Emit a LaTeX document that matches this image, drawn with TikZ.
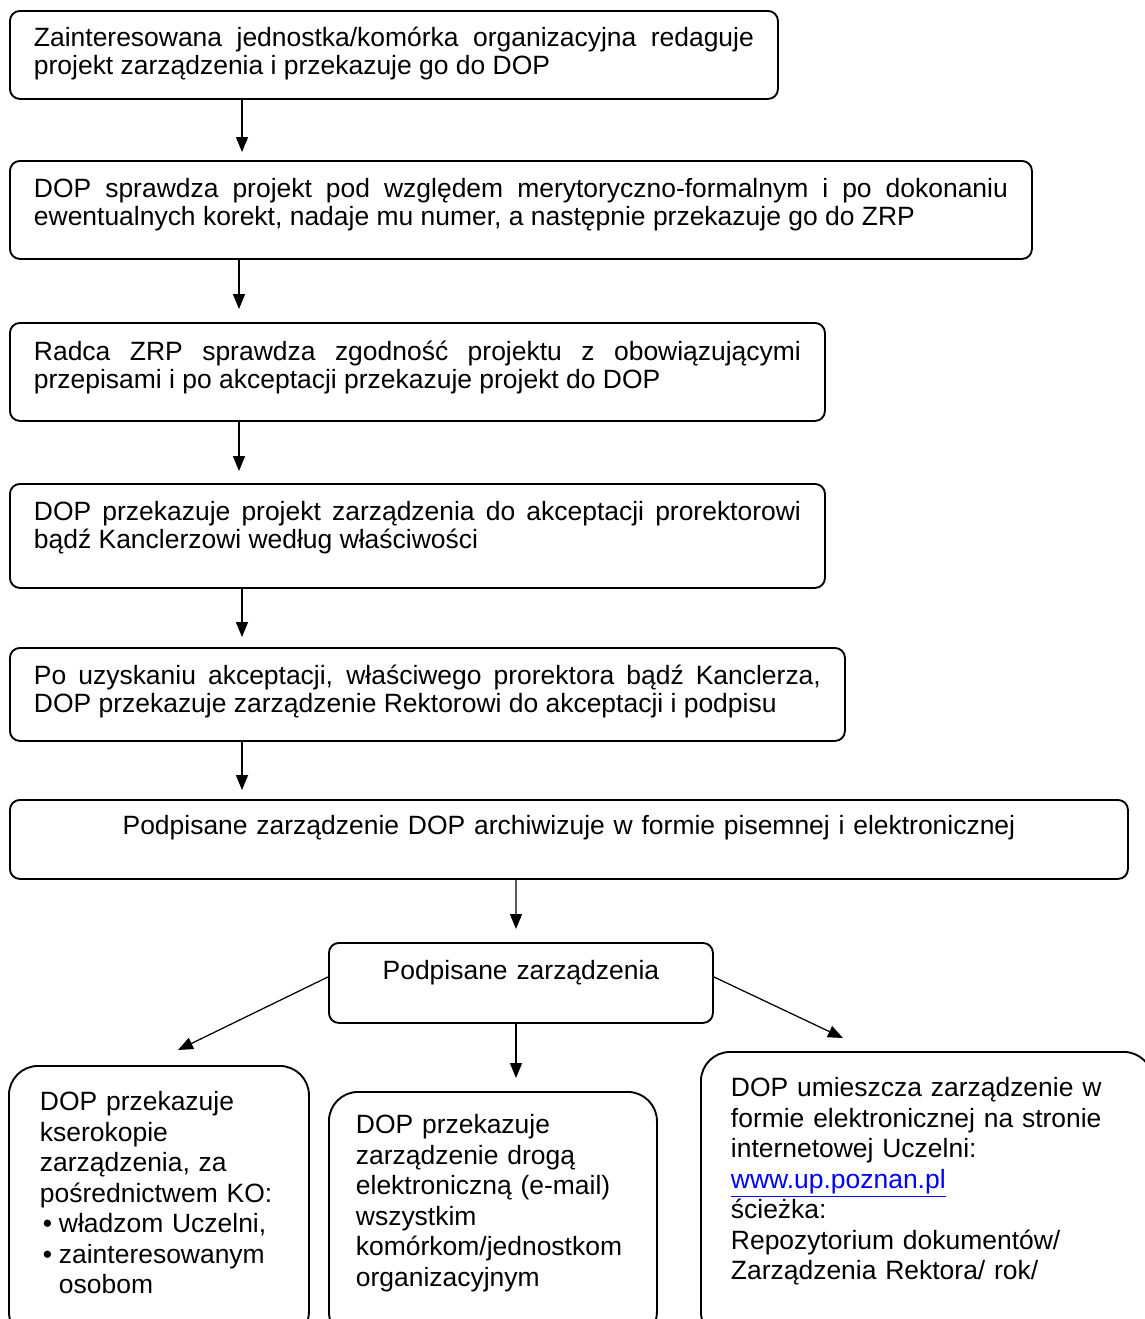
\documentclass[tikz,border=0pt]{standalone}
\usepackage{fontspec}
\setmainfont{Liberation Sans}
\usepackage{xcolor}
\usetikzlibrary{arrows.meta}
\hyphenpenalty=10000
\exhyphenpenalty=10000

\begin{document}
\begin{tikzpicture}[x=0.48pt,y=-0.48pt,
  box/.style={draw,line width=0.9pt,rounded corners=4.8pt,anchor=north west,
    inner xsep=11.52pt,inner ysep=0pt,align=justify,
    font=\fontsize{12.7}{13.2}\selectfont},
  tile/.style={box,rounded corners=14pt,align=left,
    font=\fontsize{12.7}{14.6}\selectfont},
  arr/.style={line width=0.6pt,-{Triangle[length=7.2pt,width=5.8pt]}}]
  \useasboundingbox (0,0) rectangle (1145,1319);
  \clip (0,0) rectangle (1145,1319);
  \node[box,text width=345.6pt,text height=17.28pt,text depth=24.96pt] (draft) at (9,10)
    {Zainteresowana jednostka/komórka organizacyjna redaguje\linebreak projekt zarządzenia i przekazuje go do DOP};
  \node[box,text width=467.52pt,text height=17.76pt,text depth=29.28pt] (check) at (9,160)
    {DOP sprawdza projekt pod względem merytoryczno-formalnym i po dokonaniu\linebreak ewentualnych korekt, nadaje mu numer, a następnie przekazuje go do ZRP};
  \node[box,text width=368.16pt,text height=18.24pt,text depth=28.8pt] (legal) at (9,322)
    {Radca ZRP sprawdza zgodność projektu z obowiązującymi\linebreak przepisami i po akceptacji przekazuje projekt do DOP};
  \node[box,text width=368.16pt,text height=17.76pt,text depth=32.16pt] (accept) at (9,483)
    {DOP przekazuje projekt zarządzenia do akceptacji prorektorowi\linebreak bądź Kanclerzowi według właściwości};
  \node[box,text width=377.76pt,text height=17.76pt,text depth=26.88pt] (sign) at (9,647)
    {Po uzyskaniu akceptacji, właściwego prorektora bądź Kanclerza,\linebreak DOP przekazuje zarządzenie Rektorowi do akceptacji i podpisu};
  \node[box,align=center,text width=513.6pt,text height=16.8pt,text depth=21.12pt] (archive) at (9,799)
    {Podpisane zarządzenie DOP archiwizuje w formie pisemnej i elektronicznej};
  \node[box,align=center,text width=161.28pt,text height=17.76pt,text depth=20.64pt] (signed) at (328,942)
    {Podpisane zarządzenia};
  \node[tile,inner xsep=14.88pt,text width=114.24pt,text height=21.6pt,text depth=110.4pt] (copies) at (8,1065)
    {DOP przekazuje\\kserokopie\\zarządzenia, za\\pośrednictwem KO:\\
     \hspace*{1.44pt}\makebox[7.68pt][l]{•}władzom Uczelni,\\
     \hspace*{1.44pt}\makebox[7.68pt][l]{•}zainteresowanym\\
     \hspace*{9.12pt}osobom};
  \node[tile,inner xsep=12.96pt,text width=131.52pt,text height=20.16pt,text depth=99.36pt] (mail) at (328,1091)
    {DOP przekazuje\\zarządzenie drogą\\elektroniczną (e-mail)\\wszystkim\\komórkom/jednostkom\\organizacyjnym};
  \node[tile,inner xsep=14.4pt,text width=188.16pt,text height=21.6pt,text depth=117.12pt] (web) at (700,1051)
    {DOP umieszcza zarządzenie w\\formie elektronicznej na stronie\\internetowej Uczelni:\\
     \textcolor{blue}{\underline{www.up.poznan.pl}}\\ścieżka:\\Repozytorium dokumentów/\\Zarządzenia Rektora/ rok/};
  \coordinate (tipL) at (178,1050);
  \coordinate (tipR) at (843,1038);
  \draw[arr] ([xshift=111.84pt]draft.south west) -- ([xshift=111.84pt,yshift=3.84pt]check.north west);
  \draw[arr] ([xshift=110.4pt]check.south west) -- ([xshift=110.4pt,yshift=6.24pt]legal.north west);
  \draw[arr] ([xshift=110.4pt]legal.south west) -- ([xshift=110.4pt,yshift=5.76pt]accept.north west);
  \draw[arr] ([xshift=111.84pt]accept.south west) -- ([xshift=111.84pt,yshift=4.8pt]sign.north west);
  \draw[arr] ([xshift=111.84pt]sign.south west) -- ([xshift=111.84pt,yshift=4.32pt]archive.north west);
  \draw[arr] ([xshift=243.36pt]archive.south west) -- ([xshift=90.24pt,yshift=6.24pt]signed.north west);
  \draw[arr] ([yshift=2.88pt]signed.west) -- (tipL);
  \draw[arr] ([xshift=90.24pt]signed.south west) -- ([xshift=90.24pt,yshift=6.24pt]mail.north west);
  \draw[arr] ([yshift=2.88pt]signed.east) -- (tipR);
\end{tikzpicture}
\end{document}
